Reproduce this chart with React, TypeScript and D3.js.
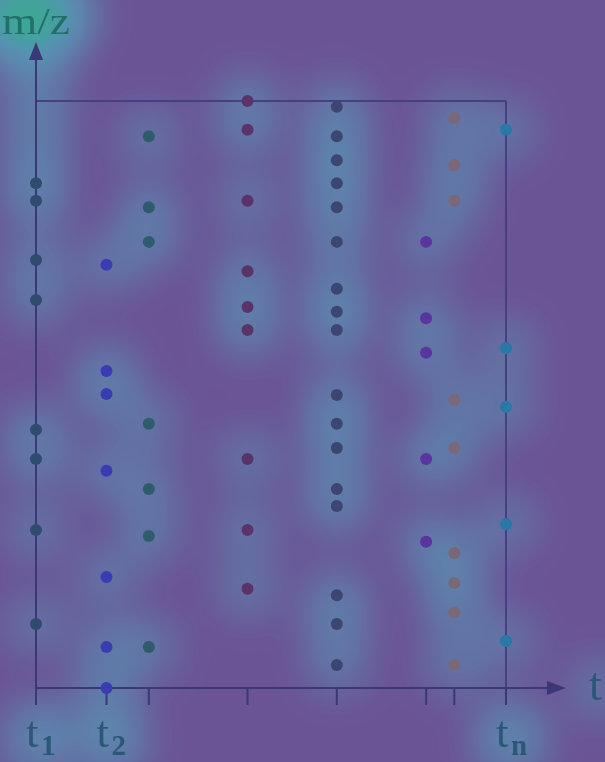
import React from "react";
import * as d3 from "d3";

// sampling times (t1 ... tn), arbitrary units
const times = [0, 1.5, 2.4, 4.5, 6.4, 8.3, 8.9, 10];
const timeLabels = ["1", "2", "", "", "", "", "", "n"];

// m/z readings per time column (0 = axis, 100 = top border)
const mzT1 = [86, 83, 72.9, 66.1, 44, 39, 26.9, 10.9];
const mzT2 = [72.1, 54, 50.1, 37, 18.9, 7, 0];
const mzT3 = [94, 81.9, 76, 45, 33.9, 25.9, 7];
const mzT4 = [100, 95.1, 83, 71, 64.9, 61, 39, 26.9, 16.9];
const mzT5 = [99, 94, 89.9, 86, 81.9, 76, 68, 64.1, 61, 49.9, 45, 40.9, 33.9, 31, 15.8, 10.9, 3.9];
const mzT6 = [76, 63, 57.1, 39, 24.9];
const mzT7 = [97.1, 89.1, 83, 49.1, 40.9, 23, 17.9, 12.9, 3.9];
const mzT8 = [95.1, 57.9, 47.9, 27.9, 8];

const mzColumns = [mzT1, mzT2, mzT3, mzT4, mzT5, mzT6, mzT7, mzT8];
const columnColors = ["#2f4c6e", "#3a3cb4", "#2f5c6c", "#5a3468", "#3c4670", "#5a34a0", "#7a6878", "#2878a8"];

const W = 605;
const H = 762;

export default function App() {
  const x = d3.scaleLinear().domain([0, 10]).range([36, 506]);
  const y = d3.scaleLinear().domain([0, 100]).range([688, 101]);

  const points = mzColumns.flatMap((col, i) =>
    col.map((v) => ({ t: times[i], mz: v, color: columnColors[i] }))
  );

  const axisColor = "#3b3878";
  const boxColor = "#463f82";
  const labelFont = "'Liberation Serif', 'Times New Roman', serif";

  // heat colormap (intensity -> colour), applied in the filter
  const tabR = "0.42 0.392 0.368 0.33 0.26 0.205";
  const tabG = "0.33 0.44 0.52 0.58 0.64 0.685";
  const tabB = "0.59 0.64 0.68 0.69 0.61 0.53";

  return (
    <svg width={W} height={H} style={{ position: "absolute", left: 0, top: 0 }}>
      <defs>
        <filter id="heat" filterUnits="userSpaceOnUse" x={0} y={0} width={W} height={H} colorInterpolationFilters="sRGB">
          <feGaussianBlur in="SourceAlpha" stdDeviation={23} result="b" />
          <feColorMatrix in="b" type="matrix" values="0 0 0 1 0  0 0 0 1 0  0 0 0 1 0  0 0 0 0 1" result="g" />
          <feComponentTransfer in="g">
            <feFuncR type="table" tableValues={tabR} />
            <feFuncG type="table" tableValues={tabG} />
            <feFuncB type="table" tableValues={tabB} />
          </feComponentTransfer>
        </filter>
      </defs>
      <rect width={W} height={H} fill="#6b5496" />

      {/* heat overlay */}
      <g filter="url(#heat)">
        {points.map((p, i) => (
          <circle key={i} cx={x(p.t)} cy={y(p.mz)} r={21} fill="#000" opacity={0.5} />
        ))}
        <ellipse cx={28} cy={16} rx={58} ry={40} fill="#000" opacity={0.95} />
        <ellipse cx={x(0)} cy={110} rx={24} ry={70} fill="#000" opacity={0.45} />
        {times.map((t, i) =>
          timeLabels[i] ? (
            <ellipse key={i} cx={x(t) + 4} cy={738} rx={28} ry={32} fill="#000" opacity={0.6} />
          ) : null
        )}
        <ellipse cx={598} cy={688} rx={16} ry={24} fill="#000" opacity={0.55} />
      </g>

      {/* frame */}
      <line x1={x(0)} x2={x(10)} y1={y(100)} y2={y(100)} stroke={boxColor} strokeWidth={2} />
      <line x1={x(10)} x2={x(10)} y1={y(100)} y2={y(0)} stroke={boxColor} strokeWidth={2} />

      {/* axes */}
      <line x1={x(0)} x2={x(0)} y1={y(0)} y2={58} stroke={axisColor} strokeWidth={2} />
      <path d={`M${x(0)},42 L${x(0) - 7},60 L${x(0) + 7},60 Z`} fill={axisColor} />
      <line x1={x(0)} x2={549} y1={y(0)} y2={y(0)} stroke={axisColor} strokeWidth={2} />
      <path d={`M566,${y(0)} L547,${y(0) - 7} L547,${y(0) + 7} Z`} fill={axisColor} />
      {times.map((t, i) => (
        <line key={i} x1={x(t)} x2={x(t)} y1={y(0)} y2={y(0) + 17} stroke={axisColor} strokeWidth={2} />
      ))}

      {/* points */}
      {points.map((p, i) => (
        <circle key={i} cx={x(p.t)} cy={y(p.mz)} r={6} fill={p.color} />
      ))}

      {/* labels */}
      <g fontFamily={labelFont}>
        <text x={2} y={34} fontSize={38} fill="#22706c" textLength={68} lengthAdjust="spacingAndGlyphs">m/z</text>
        <text x={589} y={700} fontSize={46} fill="#2b5877">t</text>
        {times.map((t, i) =>
          timeLabels[i] ? (
            <g key={i} fill="#2b5877">
              <text x={x(t) - 10} y={747} fontSize={45}>t</text>
              <text x={x(t) + 5} y={755} fontSize={29} fontWeight="bold">{timeLabels[i]}</text>
            </g>
          ) : null
        )}
      </g>
    </svg>
  );
}
